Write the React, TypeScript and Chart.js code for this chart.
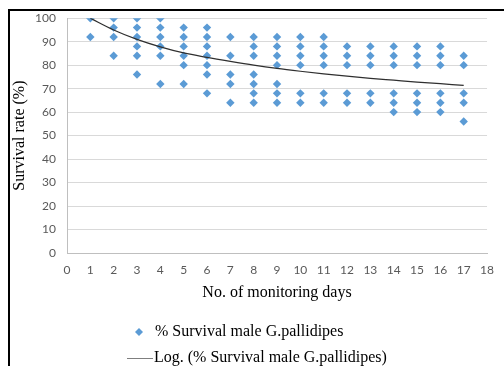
import React, { useEffect, useRef } from "react";
import { Chart, registerables } from "chart.js";

Chart.register(...registerables);

const days = [1, 2, 3, 4, 5, 6, 7, 8, 9, 10, 11, 12, 13, 14, 15, 16, 17];
const survivalByDay = [
  [100, 92],
  [100, 96, 92, 84],
  [100, 96, 92, 88, 84, 76],
  [100, 96, 92, 88, 84, 72],
  [96, 92, 88, 84, 80, 72],
  [96, 92, 88, 84, 80, 76, 68],
  [92, 84, 76, 72, 64],
  [92, 88, 84, 76, 72, 68, 64],
  [92, 88, 84, 80, 72, 68, 64],
  [92, 88, 84, 80, 68, 64],
  [92, 88, 84, 80, 68, 64],
  [88, 84, 80, 68, 64],
  [88, 84, 80, 68, 64],
  [88, 84, 80, 68, 64, 60],
  [88, 84, 80, 68, 64, 60],
  [88, 84, 80, 68, 64, 60],
  [84, 80, 68, 64, 56],
];
const trendValues = [100, 95, 91, 87.8, 85.2, 83.3, 81.6, 80, 78.6, 77.4, 76.3, 75.3, 74.4, 73.6, 72.8, 72.1, 71.4];

const seriesLabel = "% Survival male G.pallidipes";
const trendLabel = "Log. (% Survival male G.pallidipes)";
const xTitle = "No. of monitoring days";
const yTitle = "Survival rate (%)";

const BLUE = "#5b9bd5";
const TREND = "#2f2f2f";
const SERIF = '"Liberation Serif", "Times New Roman", serif';
const SANS = 'Lato, "Liberation Sans", sans-serif';

const overlayPlugin = {
  id: "overlay",
  afterDraw(chart: any) {
    const ctx = chart.ctx;
    const area = chart.chartArea;
    ctx.save();
    ctx.fillStyle = "#000";
    ctx.font = "16px " + SERIF;
    ctx.textAlign = "center";
    ctx.textBaseline = "middle";
    ctx.fillText(xTitle, (area.left + area.right) / 2, 293);
    ctx.save();
    ctx.translate(20, (area.top + area.bottom) / 2);
    ctx.rotate(-Math.PI / 2);
    ctx.fillText(yTitle, 0, 0);
    ctx.restore();

    // legend
    const r = 4;
    const mx = 139, my = 332;
    ctx.fillStyle = BLUE;
    ctx.beginPath();
    ctx.moveTo(mx - r, my);
    ctx.lineTo(mx, my - r);
    ctx.lineTo(mx + r, my);
    ctx.lineTo(mx, my + r);
    ctx.closePath();
    ctx.fill();
    ctx.fillStyle = "#000";
    ctx.textAlign = "left";
    ctx.fillText(seriesLabel, 155, my);

    const ly = 358;
    ctx.strokeStyle = "#7f7f7f";
    ctx.lineWidth = 1;
    ctx.beginPath();
    ctx.moveTo(127, ly + 0.5);
    ctx.lineTo(153, ly + 0.5);
    ctx.stroke();
    ctx.fillText(trendLabel, 154, ly);
    ctx.restore();
  },
};

export default function App() {
  const ref = useRef<HTMLCanvasElement>(null);

  useEffect(() => {
    const points: { x: number; y: number }[] = [];
    days.forEach((d, i) => {
      survivalByDay[i].forEach((v) => points.push({ x: d, y: v }));
    });
    const trend = days.map((d, i) => ({ x: d, y: trendValues[i] }));

    const chart = new Chart(ref.current!, {
      type: "scatter",
      data: {
        datasets: [
          {
            label: trendLabel,
            data: trend,
            showLine: true,
            borderColor: TREND,
            borderWidth: 1.2,
            pointRadius: 0,
            cubicInterpolationMode: "monotone",
          } as any,
          {
            label: seriesLabel,
            data: points,
            pointStyle: "rectRot",
            pointRadius: 4.2,
            backgroundColor: BLUE,
            borderColor: BLUE,
            borderWidth: 0,
          },
        ],
      },
      options: {
        animation: false,
        responsive: false,
        maintainAspectRatio: false,
        layout: { padding: { top: 18, right: 8, left: 0, bottom: 0 } },
        plugins: { legend: { display: false }, tooltip: { enabled: false } },
        scales: {
          x: {
            type: "linear",
            min: 0,
            max: 18,
            ticks: {
              stepSize: 1,
              padding: 10,
              color: "#595959",
              font: { family: SANS, size: 12 },
              maxRotation: 0,
            },
            grid: { display: false, drawTicks: false },
            border: { display: true, color: "#bfbfbf", width: 1 },
            afterFit(scale: any) {
              scale.height = 113;
            },
          },
          y: {
            min: 0,
            max: 100,
            ticks: {
              stepSize: 10,
              padding: 11,
              color: "#595959",
              font: { family: SANS, size: 12 },
            },
            grid: { color: "#d9d9d9", lineWidth: 1, drawTicks: false },
            border: { display: true, color: "#bfbfbf", width: 1 },
            afterFit(scale: any) {
              scale.width = 67;
            },
          },
        },
      },
      plugins: [overlayPlugin],
    });
    return () => chart.destroy();
  }, []);

  return (
    <div style={{ position: "fixed", left: 0, top: 0, width: 504, height: 366, background: "#fff" }}>
      <canvas ref={ref} width={504} height={366} style={{ position: "absolute", left: 0, top: 0 }} />
      <div
        style={{
          position: "absolute",
          left: 8,
          top: 9,
          width: 496,
          height: 357,
          borderTop: "2px solid #000",
          borderLeft: "2px solid #000",
          boxSizing: "border-box",
        }}
      />
    </div>
  );
}
